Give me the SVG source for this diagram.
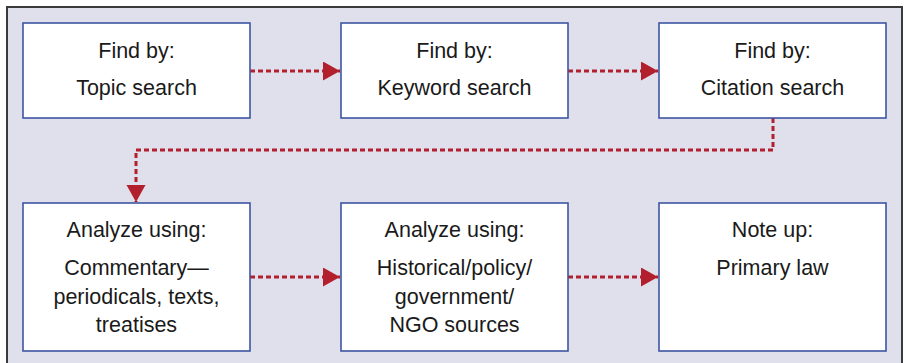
<svg xmlns="http://www.w3.org/2000/svg" width="906" height="363" viewBox="0 0 906 363">
<defs>
<style>
.frame{fill:#e0e0ec;stroke:#3a3a3a;stroke-width:2}
.box{fill:#ffffff;stroke:#3d56a3;stroke-width:1.6}
.t{font-family:"Liberation Sans",Arial,sans-serif;font-size:21.5px;fill:#1a1a1a;text-anchor:middle}
.c{fill:none;stroke:#b3202d;stroke-width:3;stroke-dasharray:5 3}
</style>
<marker id="ah" markerUnits="userSpaceOnUse" markerWidth="18" markerHeight="20" refX="17" refY="9.5" orient="auto">
<path d="M0,0 L17,9.5 L0,19 z" fill="#b3202d"/>
</marker>
</defs>
<rect class="frame" x="7" y="7" width="895" height="380"/>
<g id="connectors">
<path class="c" d="M250,71 H340" marker-end="url(#ah)"/>
<path class="c" d="M568,71 H658" marker-end="url(#ah)"/>
<path class="c" d="M773,118 V150 H136 V202" marker-end="url(#ah)"/>
<path class="c" d="M250,277 H340" marker-end="url(#ah)"/>
<path class="c" d="M568,277 H658" marker-end="url(#ah)"/>
</g>
<g id="n1">
<rect class="box" x="23" y="23" width="227" height="95"/>
<text class="t" x="136.5" y="58">Find by:</text>
<text class="t" x="136.5" y="95">Topic search</text>
</g>
<g id="n2">
<rect class="box" x="341" y="23" width="227" height="95"/>
<text class="t" x="454.5" y="58">Find by:</text>
<text class="t" x="454.5" y="95">Keyword search</text>
</g>
<g id="n3">
<rect class="box" x="659" y="23" width="227" height="95"/>
<text class="t" x="772.5" y="58">Find by:</text>
<text class="t" x="772.5" y="95">Citation search</text>
</g>
<g id="n4">
<rect class="box" x="23" y="203" width="227" height="148"/>
<text class="t" x="136.5" y="237">Analyze using:</text>
<text class="t" x="136.5" y="275">Commentary—</text>
<text class="t" x="136.5" y="304">periodicals, texts,</text>
<text class="t" x="136.5" y="332">treatises</text>
</g>
<g id="n5">
<rect class="box" x="341" y="203" width="227" height="148"/>
<text class="t" x="454.5" y="237">Analyze using:</text>
<text class="t" x="454.5" y="275">Historical/policy/</text>
<text class="t" x="454.5" y="304">government/</text>
<text class="t" x="454.5" y="332">NGO sources</text>
</g>
<g id="n6">
<rect class="box" x="659" y="203" width="227" height="148"/>
<text class="t" x="772.5" y="237">Note up:</text>
<text class="t" x="772.5" y="275">Primary law</text>
</g>
</svg>
